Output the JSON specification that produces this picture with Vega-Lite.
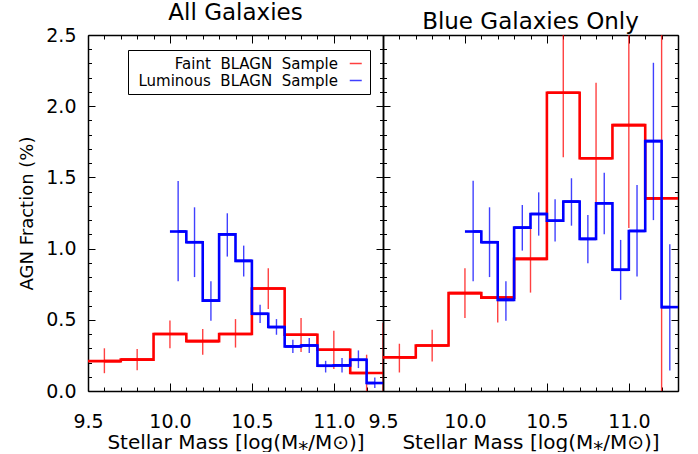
{
  "$schema": "https://vega.github.io/schema/vega-lite/v6.json",
  "background": "white",
  "padding": {"left": 18, "top": 2, "right": 5, "bottom": 0},
  "spacing": 0,
  "bounds": "flush",
  "datasets": {
    "all": [
      {"sample": "Faint BLAGN Sample", "x": 9.6, "lo": 9.5, "hi": 9.7, "y": 0.21, "ylo": 0.125, "yhi": 0.3},
      {"sample": "Faint BLAGN Sample", "x": 9.8, "lo": 9.7, "hi": 9.9, "y": 0.22, "ylo": 0.145, "yhi": 0.295},
      {"sample": "Faint BLAGN Sample", "x": 10.0, "lo": 9.9, "hi": 10.1, "y": 0.4, "ylo": 0.3, "yhi": 0.495},
      {"sample": "Faint BLAGN Sample", "x": 10.2, "lo": 10.1, "hi": 10.3, "y": 0.35, "ylo": 0.255, "yhi": 0.435},
      {"sample": "Faint BLAGN Sample", "x": 10.4, "lo": 10.3, "hi": 10.5, "y": 0.4, "ylo": 0.305, "yhi": 0.505},
      {"sample": "Faint BLAGN Sample", "x": 10.6, "lo": 10.5, "hi": 10.7, "y": 0.72, "ylo": 0.575, "yhi": 0.862},
      {"sample": "Faint BLAGN Sample", "x": 10.8, "lo": 10.7, "hi": 10.9, "y": 0.395, "ylo": 0.273, "yhi": 0.512},
      {"sample": "Faint BLAGN Sample", "x": 11.0, "lo": 10.9, "hi": 11.1, "y": 0.29, "ylo": 0.154, "yhi": 0.423},
      {"sample": "Faint BLAGN Sample", "x": 11.2, "lo": 11.1, "hi": 11.3, "y": 0.126, "ylo": -0.004, "yhi": 0.255},
      {"sample": "Faint BLAGN Sample", "x": 11.3, "ylo": 0.0, "yhi": 0.48},
      {"sample": "Luminous BLAGN Sample", "x": 10.05, "lo": 10.0, "hi": 10.1, "y": 1.12, "ylo": 0.77, "yhi": 1.475},
      {"sample": "Luminous BLAGN Sample", "x": 10.15, "lo": 10.1, "hi": 10.2, "y": 1.045, "ylo": 0.8, "yhi": 1.29},
      {"sample": "Luminous BLAGN Sample", "x": 10.25, "lo": 10.2, "hi": 10.3, "y": 0.635, "ylo": 0.493, "yhi": 0.77},
      {"sample": "Luminous BLAGN Sample", "x": 10.35, "lo": 10.3, "hi": 10.4, "y": 1.1, "ylo": 0.944, "yhi": 1.248},
      {"sample": "Luminous BLAGN Sample", "x": 10.45, "lo": 10.4, "hi": 10.5, "y": 0.914, "ylo": 0.804, "yhi": 1.021},
      {"sample": "Luminous BLAGN Sample", "x": 10.55, "lo": 10.5, "hi": 10.6, "y": 0.542, "ylo": 0.477, "yhi": 0.605},
      {"sample": "Luminous BLAGN Sample", "x": 10.65, "lo": 10.6, "hi": 10.7, "y": 0.449, "ylo": 0.395, "yhi": 0.505},
      {"sample": "Luminous BLAGN Sample", "x": 10.75, "lo": 10.7, "hi": 10.8, "y": 0.313, "ylo": 0.266, "yhi": 0.36},
      {"sample": "Luminous BLAGN Sample", "x": 10.85, "lo": 10.8, "hi": 10.9, "y": 0.32, "ylo": 0.266, "yhi": 0.372},
      {"sample": "Luminous BLAGN Sample", "x": 10.95, "lo": 10.9, "hi": 11.0, "y": 0.177, "ylo": 0.13, "yhi": 0.212},
      {"sample": "Luminous BLAGN Sample", "x": 11.05, "lo": 11.0, "hi": 11.1, "y": 0.18, "ylo": 0.13, "yhi": 0.231},
      {"sample": "Luminous BLAGN Sample", "x": 11.15, "lo": 11.1, "hi": 11.2, "y": 0.219, "ylo": 0.161, "yhi": 0.285},
      {"sample": "Luminous BLAGN Sample", "x": 11.25, "lo": 11.2, "hi": 11.3, "y": 0.056, "ylo": 0.021, "yhi": 0.095}
    ],
    "blue": [
      {"sample": "Faint BLAGN Sample", "x": 9.6, "lo": 9.5, "hi": 9.7, "y": 0.236, "ylo": 0.13, "yhi": 0.332},
      {"sample": "Faint BLAGN Sample", "x": 9.8, "lo": 9.7, "hi": 9.9, "y": 0.32, "ylo": 0.208, "yhi": 0.43},
      {"sample": "Faint BLAGN Sample", "x": 10.0, "lo": 9.9, "hi": 10.1, "y": 0.687, "ylo": 0.512, "yhi": 0.862},
      {"sample": "Faint BLAGN Sample", "x": 10.2, "lo": 10.1, "hi": 10.3, "y": 0.656, "ylo": 0.481, "yhi": 0.831},
      {"sample": "Faint BLAGN Sample", "x": 10.4, "lo": 10.3, "hi": 10.5, "y": 0.928, "ylo": 0.691, "yhi": 1.143},
      {"sample": "Faint BLAGN Sample", "x": 10.6, "lo": 10.5, "hi": 10.7, "y": 2.094, "ylo": 1.641, "yhi": 2.547},
      {"sample": "Faint BLAGN Sample", "x": 10.8, "lo": 10.7, "hi": 10.9, "y": 1.634, "ylo": 1.1, "yhi": 2.164},
      {"sample": "Faint BLAGN Sample", "x": 11.0, "lo": 10.9, "hi": 11.1, "y": 1.867, "ylo": 1.145, "yhi": 2.59},
      {"sample": "Faint BLAGN Sample", "x": 11.2, "lo": 11.1, "hi": 11.3, "y": 1.353, "ylo": -0.1, "yhi": 2.8},
      {"sample": "Luminous BLAGN Sample", "x": 10.05, "lo": 10.0, "hi": 10.1, "y": 1.12, "ylo": 0.77, "yhi": 1.477},
      {"sample": "Luminous BLAGN Sample", "x": 10.15, "lo": 10.1, "hi": 10.2, "y": 1.045, "ylo": 0.8, "yhi": 1.29},
      {"sample": "Luminous BLAGN Sample", "x": 10.25, "lo": 10.2, "hi": 10.3, "y": 0.64, "ylo": 0.493, "yhi": 0.77},
      {"sample": "Luminous BLAGN Sample", "x": 10.35, "lo": 10.3, "hi": 10.4, "y": 1.147, "ylo": 0.986, "yhi": 1.306},
      {"sample": "Luminous BLAGN Sample", "x": 10.45, "lo": 10.4, "hi": 10.5, "y": 1.243, "ylo": 1.091, "yhi": 1.395},
      {"sample": "Luminous BLAGN Sample", "x": 10.55, "lo": 10.5, "hi": 10.6, "y": 1.196, "ylo": 1.049, "yhi": 1.346},
      {"sample": "Luminous BLAGN Sample", "x": 10.65, "lo": 10.6, "hi": 10.7, "y": 1.33, "ylo": 1.161, "yhi": 1.494},
      {"sample": "Luminous BLAGN Sample", "x": 10.75, "lo": 10.7, "hi": 10.8, "y": 1.068, "ylo": 0.897, "yhi": 1.236},
      {"sample": "Luminous BLAGN Sample", "x": 10.85, "lo": 10.8, "hi": 10.9, "y": 1.318, "ylo": 1.1, "yhi": 1.533},
      {"sample": "Luminous BLAGN Sample", "x": 10.95, "lo": 10.9, "hi": 11.0, "y": 0.851, "ylo": 0.64, "yhi": 1.061},
      {"sample": "Luminous BLAGN Sample", "x": 11.05, "lo": 11.0, "hi": 11.1, "y": 1.124, "ylo": 0.804, "yhi": 1.447},
      {"sample": "Luminous BLAGN Sample", "x": 11.15, "lo": 11.1, "hi": 11.2, "y": 1.755, "ylo": 1.2, "yhi": 2.305},
      {"sample": "Luminous BLAGN Sample", "x": 11.25, "lo": 11.2, "hi": 11.3, "y": 0.589, "ylo": 0.144, "yhi": 1.03}
    ]
  },
  "hconcat": [
    {
      "data": {"name": "all"},
      "width": 295,
      "height": 356,
      "title": {"text": "All Galaxies"},
      "resolve": {"axis": {"x": "independent", "y": "independent"}},
      "layer": [
        {
          "transform": [{"filter": "datum.sample == 'Faint BLAGN Sample' && isValid(datum.y)"}],
          "mark": {"type": "line", "interpolate": "step", "strokeWidth": 2.6, "clip": true},
          "encoding": {
            "x": {"field": "x", "type": "quantitative", "scale": {"domain": [9.5, 11.3], "nice": false, "zero": false},
              "axis": {"orient": "bottom", "values": [9.5,9.6,9.7,9.8,9.9,10.0,10.1,10.2,10.3,10.4,10.5,10.6,10.7,10.8,10.9,11.0,11.1,11.2,11.3],
                "labelExpr": "abs(datum.value*2 - round(datum.value*2)) < 0.001 ? format(datum.value, '.1f') : ''",
                "tickSize": {"condition": {"test": "abs(datum.value*2 - round(datum.value*2)) < 0.001", "value": -8}, "value": -4},
                "labelPadding": 29, "title": "Stellar Mass [log(M⁎/M⊙)]", "titlePadding": -3, "titleFontSize": 20}},
            "y": {"field": "y", "type": "quantitative", "scale": {"domain": [0, 2.5], "nice": false, "zero": false},
              "axis": {"orient": "left", "values": [0,0.1,0.2,0.3,0.4,0.5,0.6,0.7,0.8,0.9,1.0,1.1,1.2,1.3,1.4,1.5,1.6,1.7,1.8,1.9,2.0,2.1,2.2,2.3,2.4,2.5],
                "labelExpr": "abs(datum.value*2 - round(datum.value*2)) < 0.001 ? format(datum.value, '.1f') : ''",
                "tickSize": {"condition": {"test": "abs(datum.value*2 - round(datum.value*2)) < 0.001", "value": -7}, "value": -3.5},
                "labelPadding": 19, "title": "AGN Fraction (%)", "titlePadding": 9, "titleFontSize": 18}},
            "color": {"field": "sample", "type": "nominal",
              "scale": {"domain": ["Faint BLAGN Sample", "Luminous BLAGN Sample"], "range": ["#ff0000", "#0000ff"]},
              "legend": {"orient": "none", "legendX": 40, "legendY": 15, "title": null,
                "symbolType": "M-0.5,0H1.1", "symbolSize": 225, "symbolStrokeWidth": 1.5,
                "labelFont": "DejaVu Sans", "labelFontSize": 15, "labelColor": "black",
                "labelAlign": "right", "labelOffset": -24, "symbolOffset": 212, "labelLimit": 400,
                "labelExpr": "replace(datum.label, regexp(' ', 'g'), '\u00a0 ')",
                "strokeColor": "black", "fillColor": "white", "padding": 5, "rowPadding": -3, "cornerRadius": 0}}
          }
        },
        {
          "transform": [{"filter": "datum.sample == 'Faint BLAGN Sample' && isValid(datum.y)"}],
          "mark": {"type": "rule", "strokeWidth": 2.6, "clip": true},
          "encoding": {
            "x": {"field": "lo", "type": "quantitative",
              "axis": {"orient": "top", "values": [9.5,9.6,9.7,9.8,9.9,10.0,10.1,10.2,10.3,10.4,10.5,10.6,10.7,10.8,10.9,11.0,11.1,11.2,11.3],
                "labels": false, "title": null,
                "tickSize": {"condition": {"test": "abs(datum.value*2 - round(datum.value*2)) < 0.001", "value": -8}, "value": -4}}},
            "x2": {"field": "hi"},
            "y": {"field": "y", "type": "quantitative",
              "axis": {"orient": "right", "values": [0,0.1,0.2,0.3,0.4,0.5,0.6,0.7,0.8,0.9,1.0,1.1,1.2,1.3,1.4,1.5,1.6,1.7,1.8,1.9,2.0,2.1,2.2,2.3,2.4,2.5],
                "labels": false, "title": null,
                "tickSize": {"condition": {"test": "abs(datum.value*2 - round(datum.value*2)) < 0.001", "value": -7}, "value": -3.5}}},
            "color": {"field": "sample", "type": "nominal"}
          }
        },
        {
          "transform": [{"filter": "datum.sample == 'Faint BLAGN Sample'"}],
          "mark": {"type": "rule", "strokeWidth": 1.4, "opacity": 0.75, "clip": true},
          "encoding": {
            "x": {"field": "x", "type": "quantitative", "axis": null},
            "y": {"field": "ylo", "type": "quantitative", "axis": null},
            "y2": {"field": "yhi"},
            "color": {"field": "sample", "type": "nominal"}
          }
        },
        {
          "transform": [{"filter": "datum.sample == 'Luminous BLAGN Sample' && isValid(datum.y)"}],
          "mark": {"type": "line", "interpolate": "step", "strokeWidth": 2.6, "clip": true},
          "encoding": {
            "x": {"field": "x", "type": "quantitative", "axis": null},
            "y": {"field": "y", "type": "quantitative", "axis": null},
            "color": {"field": "sample", "type": "nominal"}
          }
        },
        {
          "transform": [{"filter": "datum.sample == 'Luminous BLAGN Sample' && isValid(datum.y)"}],
          "mark": {"type": "rule", "strokeWidth": 2.6, "clip": true},
          "encoding": {
            "x": {"field": "lo", "type": "quantitative", "axis": null},
            "x2": {"field": "hi"},
            "y": {"field": "y", "type": "quantitative", "axis": null},
            "color": {"field": "sample", "type": "nominal"}
          }
        },
        {
          "transform": [{"filter": "datum.sample == 'Luminous BLAGN Sample'"}],
          "mark": {"type": "rule", "strokeWidth": 1.4, "opacity": 0.75, "clip": true},
          "encoding": {
            "x": {"field": "x", "type": "quantitative", "axis": null},
            "y": {"field": "ylo", "type": "quantitative", "axis": null},
            "y2": {"field": "yhi"},
            "color": {"field": "sample", "type": "nominal"}
          }
        }
      ]
    },
    {
      "data": {"name": "blue"},
      "width": 295,
      "height": 356,
      "title": {"text": "Blue Galaxies Only"},
      "resolve": {"axis": {"x": "independent", "y": "independent"}},
      "layer": [
        {
          "transform": [{"filter": "datum.sample == 'Faint BLAGN Sample' && isValid(datum.y)"}],
          "mark": {"type": "line", "interpolate": "step", "strokeWidth": 2.6, "clip": true},
          "encoding": {
            "x": {"field": "x", "type": "quantitative", "scale": {"domain": [9.5, 11.3], "nice": false, "zero": false},
              "axis": {"orient": "bottom", "values": [9.5,9.6,9.7,9.8,9.9,10.0,10.1,10.2,10.3,10.4,10.5,10.6,10.7,10.8,10.9,11.0,11.1,11.2,11.3],
                "labelExpr": "abs(datum.value*2 - round(datum.value*2)) < 0.001 ? format(datum.value, '.1f') : ''",
                "tickSize": {"condition": {"test": "abs(datum.value*2 - round(datum.value*2)) < 0.001", "value": -8}, "value": -4},
                "labelPadding": 29, "title": "Stellar Mass [log(M⁎/M⊙)]", "titlePadding": -3, "titleFontSize": 20}},
            "y": {"field": "y", "type": "quantitative", "scale": {"domain": [0, 2.5], "nice": false, "zero": false},
              "axis": {"orient": "left", "values": [0,0.1,0.2,0.3,0.4,0.5,0.6,0.7,0.8,0.9,1.0,1.1,1.2,1.3,1.4,1.5,1.6,1.7,1.8,1.9,2.0,2.1,2.2,2.3,2.4,2.5],
                "labels": false, "title": null,
                "tickSize": {"condition": {"test": "abs(datum.value*2 - round(datum.value*2)) < 0.001", "value": -7}, "value": -3.5}}},
            "color": {"field": "sample", "type": "nominal",
              "scale": {"domain": ["Faint BLAGN Sample", "Luminous BLAGN Sample"], "range": ["#ff0000", "#0000ff"]},
              "legend": null}
          }
        },
        {
          "transform": [{"filter": "datum.sample == 'Faint BLAGN Sample' && isValid(datum.y)"}],
          "mark": {"type": "rule", "strokeWidth": 2.6, "clip": true},
          "encoding": {
            "x": {"field": "lo", "type": "quantitative",
              "axis": {"orient": "top", "values": [9.5,9.6,9.7,9.8,9.9,10.0,10.1,10.2,10.3,10.4,10.5,10.6,10.7,10.8,10.9,11.0,11.1,11.2,11.3],
                "labels": false, "title": null,
                "tickSize": {"condition": {"test": "abs(datum.value*2 - round(datum.value*2)) < 0.001", "value": -8}, "value": -4}}},
            "x2": {"field": "hi"},
            "y": {"field": "y", "type": "quantitative",
              "axis": {"orient": "right", "values": [0,0.1,0.2,0.3,0.4,0.5,0.6,0.7,0.8,0.9,1.0,1.1,1.2,1.3,1.4,1.5,1.6,1.7,1.8,1.9,2.0,2.1,2.2,2.3,2.4,2.5],
                "labels": false, "title": null,
                "tickSize": {"condition": {"test": "abs(datum.value*2 - round(datum.value*2)) < 0.001", "value": -7}, "value": -3.5}}},
            "color": {"field": "sample", "type": "nominal", "legend": null}
          }
        },
        {
          "transform": [{"filter": "datum.sample == 'Faint BLAGN Sample'"}],
          "mark": {"type": "rule", "strokeWidth": 1.4, "opacity": 0.75, "clip": true},
          "encoding": {
            "x": {"field": "x", "type": "quantitative", "axis": null},
            "y": {"field": "ylo", "type": "quantitative", "axis": null},
            "y2": {"field": "yhi"},
            "color": {"field": "sample", "type": "nominal", "legend": null}
          }
        },
        {
          "transform": [{"filter": "datum.sample == 'Luminous BLAGN Sample' && isValid(datum.y)"}],
          "mark": {"type": "line", "interpolate": "step", "strokeWidth": 2.6, "clip": true},
          "encoding": {
            "x": {"field": "x", "type": "quantitative", "axis": null},
            "y": {"field": "y", "type": "quantitative", "axis": null},
            "color": {"field": "sample", "type": "nominal", "legend": null}
          }
        },
        {
          "transform": [{"filter": "datum.sample == 'Luminous BLAGN Sample' && isValid(datum.y)"}],
          "mark": {"type": "rule", "strokeWidth": 2.6, "clip": true},
          "encoding": {
            "x": {"field": "lo", "type": "quantitative", "axis": null},
            "x2": {"field": "hi"},
            "y": {"field": "y", "type": "quantitative", "axis": null},
            "color": {"field": "sample", "type": "nominal", "legend": null}
          }
        },
        {
          "transform": [{"filter": "datum.sample == 'Luminous BLAGN Sample'"}],
          "mark": {"type": "rule", "strokeWidth": 1.4, "opacity": 0.75, "clip": true},
          "encoding": {
            "x": {"field": "x", "type": "quantitative", "axis": null},
            "y": {"field": "ylo", "type": "quantitative", "axis": null},
            "y2": {"field": "yhi"},
            "color": {"field": "sample", "type": "nominal", "legend": null}
          }
        }
      ]
    }
  ],
  "resolve": {"legend": {"color": "independent"}},
  "config": {
    "view": {"stroke": null},
    "font": "DejaVu Sans",
    "title": {"font": "DejaVu Sans", "fontSize": 23, "fontWeight": "normal", "color": "black", "anchor": "middle", "offset": 1, "frame": "group"},
    "axis": {
      "grid": false, "domainColor": "black", "domainWidth": 1.5, "tickColor": "black", "tickWidth": 1,
      "labelFont": "DejaVu Sans", "labelFontSize": 19, "labelColor": "black",
      "titleFont": "DejaVu Sans", "titleFontWeight": "normal", "titleColor": "black",
      "labelOverlap": false, "labelFlush": false, "labelBound": false
    }
  }
}
